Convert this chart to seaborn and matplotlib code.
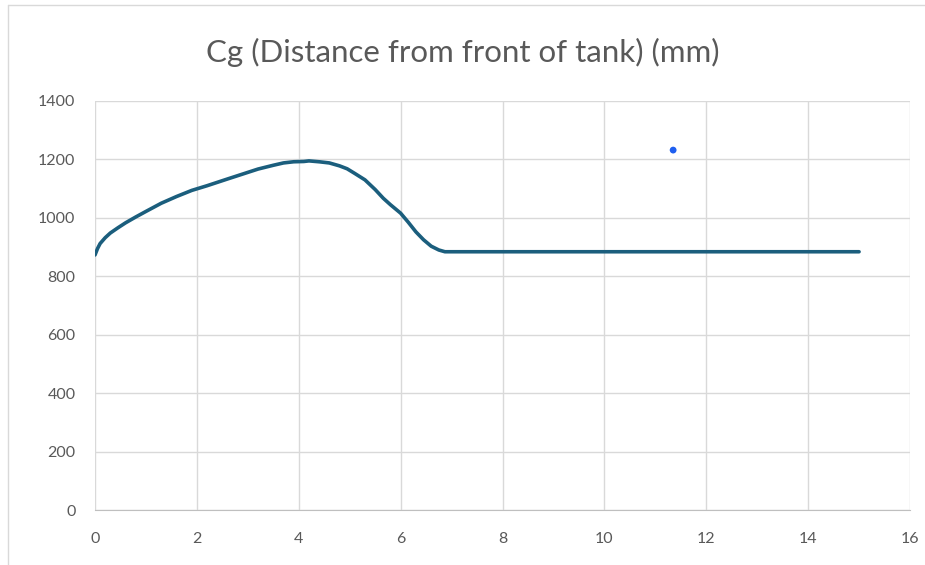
import matplotlib
matplotlib.use("Agg")
import matplotlib.pyplot as plt
import seaborn as sns
import pandas as pd

# Cg curve (time-like x, Cg in mm)
cg_x = [0.0, 0.05, 0.1, 0.2, 0.3, 0.45, 0.6, 0.8, 1.0, 1.3, 1.6, 1.9, 2.2,
        2.6, 2.9, 3.2, 3.5, 3.7, 3.9, 4.1, 4.2, 4.4, 4.6, 4.8, 4.95, 5.1,
        5.3, 5.5, 5.66, 5.8, 6.0, 6.15, 6.3, 6.45, 6.6, 6.75, 6.87, 8.0,
        10.0, 12.0, 14.0, 15.0]
cg_y = [873, 895, 912, 932, 948, 966, 983, 1003, 1022, 1050, 1073, 1094,
        1110, 1133, 1150, 1167, 1180, 1188, 1192, 1193, 1195, 1192, 1188,
        1178, 1168, 1152, 1130, 1097, 1067, 1045, 1016, 985, 952, 925, 903,
        890, 884, 884, 884, 884, 884, 884]

# single stray point
pt_x = [11.35]
pt_y = [1232]

TITLE = "Cg (Distance from front of tank) (mm)"
GREY = "#595959"

sns.set_style("whitegrid", {"grid.color": "#d9d9d9", "axes.edgecolor": "#d9d9d9"})
plt.rcParams["font.family"] = ["Lato", "DejaVu Sans"]

fig = plt.figure(figsize=(9.25, 5.65), dpi=100)
ax = fig.add_axes([95 / 925, 55 / 565, 815 / 925, 409 / 565])

df = pd.DataFrame({"x": cg_x, "y": cg_y})
sns.lineplot(data=df, x="x", y="y", ax=ax, color="#1b5e7d", linewidth=2.6,
             estimator=None, sort=False)
sns.scatterplot(x=pt_x, y=pt_y, ax=ax, color="#1f5ff0", s=24, edgecolor="none")

ax.set_xlim(0, 16)
ax.set_ylim(0, 1400)
ax.set_xticks(range(0, 17, 2))
ax.set_yticks(range(0, 1401, 200))
ax.set_xlabel("")
ax.set_ylabel("")
ax.grid(True, color="#d9d9d9", linewidth=1)
for side in ["left", "top", "right"]:
    ax.spines[side].set_visible(False)
ax.spines["bottom"].set_color("#bfbfbf")
ax.tick_params(axis="both", colors=GREY, labelsize=11.5, length=0)
ax.tick_params(axis="x", pad=16)
ax.tick_params(axis="y", pad=14)

fig.text(0.5, 1 - 52 / 565, TITLE, ha="center", va="center",
         fontsize=22.5, color=GREY)

# partial chart-area border (top and left edges)
fig.add_artist(plt.Line2D([8 / 925, 1], [1 - 5 / 565, 1 - 5 / 565],
                          color="#d9d9d9", linewidth=1, transform=fig.transFigure))
fig.add_artist(plt.Line2D([8 / 925, 8 / 925], [0, 1 - 5 / 565],
                          color="#d9d9d9", linewidth=1, transform=fig.transFigure))

fig.savefig("out.png", dpi=100)
